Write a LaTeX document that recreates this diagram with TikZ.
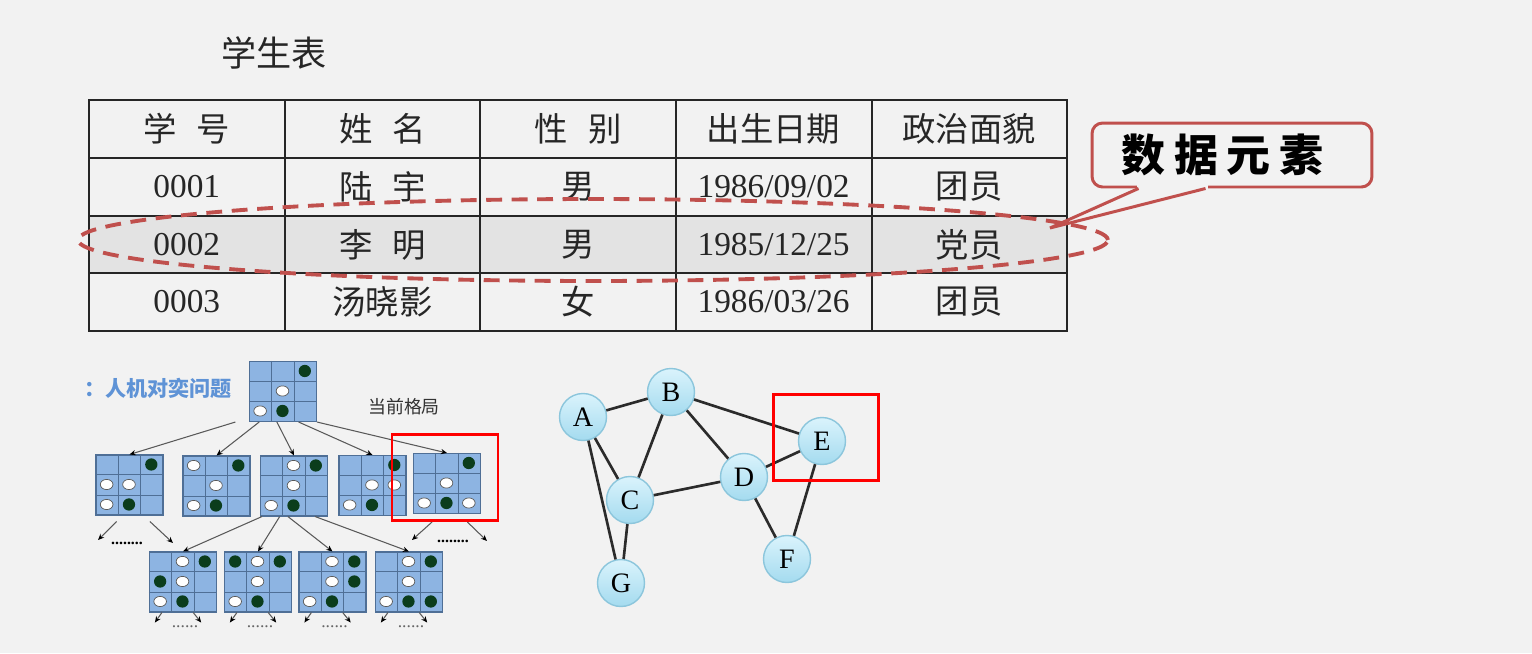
\documentclass[tikz,border=0pt]{standalone}
\usepackage{fontspec}
\setmainfont{Liberation Serif}
\newfontfamily\cjk{Noto Sans CJK SC}
\usetikzlibrary{positioning, calc, arrows.meta}

\definecolor{bgcol}{HTML}{F2F2F2}
\definecolor{rowgray}{HTML}{E3E3E3}
\definecolor{tabline}{HTML}{262626}
\definecolor{ringred}{HTML}{C0504D}
\definecolor{boardblue}{HTML}{8DB4E2}
\definecolor{boardline}{HTML}{4F6F96}
\definecolor{stonedark}{HTML}{0B3D1C}
\definecolor{titleblue}{HTML}{5F93D6}
\definecolor{vtop}{HTML}{DAF3FC}
\definecolor{vbot}{HTML}{A4DBEF}
\definecolor{vrim}{HTML}{8CC6DC}
\definecolor{edgecol}{HTML}{2B2B2B}

% 3x3 board: name, centre x, centre y, white stones, black stones (col/row)
\newcommand{\board}[5]{%
    \node[board] (#1) at (#2,#3) {};
    \foreach \k in {1,2} {
        \draw[boardgrid] ($(#1.north west)!\k/3!(#1.north east)$) -- ($(#1.south west)!\k/3!(#1.south east)$);
        \draw[boardgrid] ($(#1.north west)!\k/3!(#1.south west)$) -- ($(#1.north east)!\k/3!(#1.south east)$);
    }
    \foreach \c/\r in {#4}
        \filldraw[whitestone] ($(#1.north west)+({(\c-.5)*67/3},{(\r-.5)*20})$) ellipse [x radius=3.6pt, y radius=2.9pt];
    \foreach \c/\r in {#5}
        \fill[blackstone] ($(#1.north west)+({(\c-.5)*67/3},{(\r-.5)*20})$) circle [radius=3.5pt];
}

\begin{document}
\begin{tikzpicture}[
    x=0.02cm, y=-0.02cm, % pixel grid, y pointing down
    % Styles
    cell/.style={ % Table cell text
        inner sep=0,
        text=black!85,
        font=\fontsize{19}{22}\selectfont
    },
    tabline/.style={
        draw=tabline,
        line width=1.3pt
    },
    ring/.style={ % Dashed mark round a record
        draw=ringred,
        line width=2.2pt,
        dash pattern=on 9pt off 5.5pt
    },
    callout/.style={
        rectangle,
        rounded corners=6pt,
        draw=ringred,
        line width=1.7pt,
        minimum width=5.6cm,
        minimum height=1.28cm,
        font=\fontsize{25}{27}\selectfont
    },
    board/.style={ % Game position
        rectangle,
        draw=boardline,
        fill=boardblue,
        line width=.6pt,
        inner sep=0,
        minimum width=1.34cm,
        minimum height=1.2cm
    },
    boardgrid/.style={
        draw=boardline,
        line width=.6pt
    },
    whitestone/.style={
        fill=white,
        draw=gray!70!black,
        line width=.4pt
    },
    blackstone/.style={
        fill=stonedark
    },
    treearrow/.style={
        draw=gray!70!black,
        line width=.6pt,
        -{Stealth[length=3.5pt, width=3pt, color=black]}
    },
    vertex/.style={ % Graph vertex
        circle,
        minimum size=0.94cm,
        inner sep=0,
        draw=vrim,
        line width=.8pt,
        top color=vtop,
        bottom color=vbot,
        font=\fontsize{16}{18}\selectfont
    },
    edge/.style={
        draw=edgecol,
        line width=1.5pt
    },
    hilite/.style={
        draw=red,
        line width=1.7pt
    }
]
    \useasboundingbox (0,0) rectangle (1532,653);
    \fill[bgcol] (0,0) rectangle (1532,653);

    % Student table
    \node[cell, font=\cjk\fontsize{20}{22}\selectfont] (title) at (274,53) {学生表};
    \fill[rowgray] (89,216) rectangle (1067,273);
    \draw[tabline] (89,100) rectangle (1067,331);
    \foreach \x in {285,480,676,872}
        \draw[tabline] (\x,100) -- (\x,331);
    \foreach \y in {158,216,273}
        \draw[tabline] (89,\y) -- (1067,\y);

    \foreach \t [count=\i] in {学\hspace{.6em}号, 姓\hspace{.6em}名, 性\hspace{.6em}别, 出生日期, 政治面貌}
        \node[cell] (h\i) at ({89+195.6*(\i-.5)},129) {\cjk \t};
    \foreach \t [count=\i] in {0001, {\cjk 陆\hspace{.6em}宇}, {\cjk 男}, {1986/09/02}, {\cjk 团员}}
        \node[cell] (ra\i) at ({89+195.6*(\i-.5)},187) {\t};
    \foreach \t [count=\i] in {0002, {\cjk 李\hspace{.6em}明}, {\cjk 男}, {1985/12/25}, {\cjk 党员}}
        \node[cell] (rb\i) at ({89+195.6*(\i-.5)},245) {\t};
    \foreach \t [count=\i] in {0003, {\cjk 汤晓影}, {\cjk 女}, {1986/03/26}, {\cjk 团员}}
        \node[cell] (rc\i) at ({89+195.6*(\i-.5)},302) {\t};

    % Record mark and callout
    \draw[ring] (593,240) ellipse [x radius=10.3cm, y radius=0.82cm];
    \node[callout] (tag) at (1232,155) {\cjk\bfseries 数\hspace{5pt}据\hspace{5pt}元\hspace{5pt}素\kern11pt};
    \coordinate (tip) at (1050,228);
    \fill[bgcol] ($(tag.south west)+(46,-4)$) rectangle ($(tag.south west)+(117,4)$);
    \draw[draw=ringred, line width=1.7pt, line join=miter] ($(tag.south west)+(48,0)$) -- (tip) -- ($(tag.south west)+(115,0)$);

    % Game tree
    \node[anchor=west, inner sep=0, text=titleblue, font=\cjk\bfseries\fontsize{12}{14}\selectfont] (gametitle) at (84,388) {：人机对奕问题};
    \node[inner sep=0, text=black!80, font=\cjk\fontsize{10.2}{12}\selectfont] (now) at (404,407) {当前格局};

    \board{root}{283}{391.5}{2/2,1/3}{3/1,2/3}
    \board{b1}{129.5}{485}{1/2,2/2,1/3}{3/1,2/3}
    \board{b2}{216.5}{486}{1/1,2/2,1/3}{3/1,2/3}
    \board{b3}{294}{486}{2/1,2/2,1/3}{3/1,2/3}
    \board{b4}{372.5}{485.5}{2/2,3/2,1/3}{3/1,2/3}
    \board{b5}{447}{483.5}{2/2,1/3,3/3}{3/1,2/3}
    \board{c1}{183}{582}{2/1,2/2,1/3}{3/1,1/2,2/3}
    \board{c2}{258}{582}{2/1,2/2,1/3}{1/1,3/1,2/3}
    \board{c3}{332.5}{582}{2/1,2/2,1/3}{3/1,3/2,2/3}
    \board{c4}{409}{582}{2/1,2/2,1/3}{3/1,2/3,3/3}

    \foreach \f/\n in {-0.2/b1, 0.15/b2, 0.41/b3, 0.73/b4, 1/b5}
        \draw[treearrow] ($(root.south west)!\f!(root.south east)$) -- (\n.north);
    \foreach \f/\n in {0.03/c1, 0.29/c2, 0.41/c3, 0.81/c4}
        \draw[treearrow] ($(b3.south west)!\f!(b3.south east)$) -- (\n.north);

    \coordinate (b1-l) at (98,540);
    \coordinate (b1-r) at (173,543);
    \draw[treearrow] ($(b1.south west)!.31!(b1.south east)+(0,6)$) -- (b1-l);
    \draw[treearrow] ($(b1.south west)!.8!(b1.south east)+(0,6)$) -- (b1-r);
    \node[inner sep=0, font=\bfseries\fontsize{9}{9}\selectfont] (b1-dots) at (127,543) {........};
    \coordinate (b5-l) at (412,540);
    \coordinate (b5-r) at (487,541);
    \draw[treearrow] ($(b5.south west)!.28!(b5.south east)+(0,8)$) -- (b5-l);
    \draw[treearrow] ($(b5.south west)!.8!(b5.south east)+(0,8)$) -- (b5-r);
    \node[inner sep=0, font=\bfseries\fontsize{9}{9}\selectfont] (b5-dots) at (453,541) {........};

    \foreach \n in {c1,c2,c3,c4} {
        \coordinate (\n-l) at ($(\n.south west)!.19!(\n.south east)+(-7,10)$);
        \coordinate (\n-r) at ($(\n.south west)!.65!(\n.south east)+(8,10)$);
        \draw[treearrow] ($(\n.south west)!.19!(\n.south east)$) -- (\n-l);
        \draw[treearrow] ($(\n.south west)!.65!(\n.south east)$) -- (\n-r);
        \node[inner sep=0, text=gray!80!black, font=\fontsize{10}{10}\selectfont] (\n-dots) at ($(\n.south)+(2,14)$) {......};
    }
    \draw[hilite] (392,434) rectangle (498,520);

    % Graph
    \node[vertex] (A) at (583,417) {A};
    \node[vertex] (B) at (671,392) {B};
    \node[vertex] (C) at (630,500) {C};
    \node[vertex] (D) at (744,477) {D};
    \node[vertex] (E) at (822,441) {E};
    \node[vertex] (F) at (787,559) {F};
    \node[vertex] (G) at (621,583) {G};
    \foreach \u/\v in {A/B, A/C, A/G, B/C, B/D, B/E, C/D, C/G, D/E, D/F, E/F}
        \draw[edge] (\u) -- (\v);
    \draw[hilite] (773,394) rectangle (878,480);
\end{tikzpicture}
\end{document}
